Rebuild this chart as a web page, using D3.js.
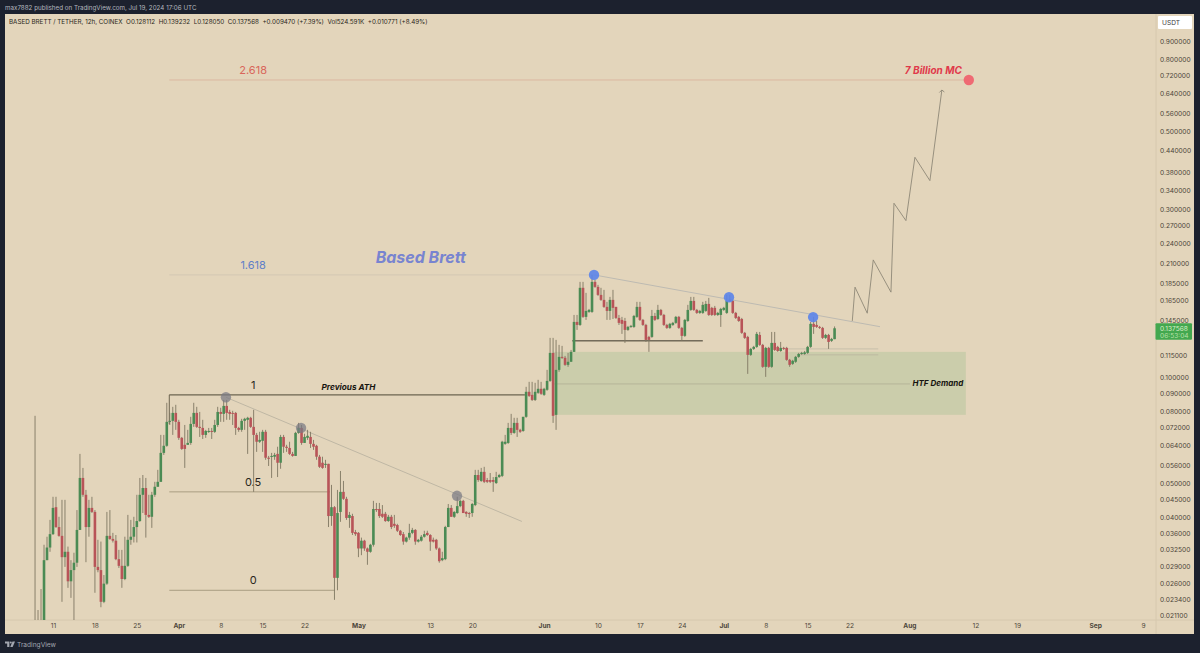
<!DOCTYPE html>
<html>
<head>
<meta charset="utf-8">
<title>Based Brett / Tether</title>
<script src="https://d3js.org/d3.v7.min.js"></script>
<style>
html, body { margin: 0; padding: 0; background: #1c212e; overflow: hidden; }
svg { display: block; }
text { font-family: Inter, "Noto Sans", sans-serif; }
</style>
</head>
<body>
<script>
// 12h candles, first one opens 8 Mar 2024
var firstCandle = "2024-03-08T00:00:00Z";
var opens = [
.0198,.0196,.0199,.0202,.0302,.0328,.0358,.0427,.0375,.0354,
.0308,.0319,.0263,.0283,.0297,.0368,.0517,.0463,.0375,.0425,
.0414,.0289,.0283,.0230,.0259,.0354,.0347,.0343,.0304,.0291,
.0267,.0291,.0345,.0352,.0375,.0390,.0463,.0484,.0406,.0401,
.0463,.0488,.0504,.0609,.0638,.0746,.0751,.0791,.0746,.0672,
.0642,.0642,.0650,.0736,.0791,.0722,.0717,.0685,.0699,.0703,
.0699,.0731,.0796,.0786,.0828,.0796,.0791,.0791,.0717,.0708,
.0751,.0756,.0766,.0722,.0685,.0655,.0659,.0699,.0590,.0594,
.0594,.0605,.0571,.0676,.0634,.0629,.0605,.0597,.0694,.0717,
.0650,.0672,.0676,.0646,.0638,.0594,.0571,.0563,.0567,.0403,
.0427,.0269,.0414,.0472,.0451,.0398,.0403,.0363,.0361,.0326,
.0343,.0326,.0319,.0334,.0422,.0422,.0409,.0409,.0390,.0401,
.0383,.0380,.0366,.0358,.0341,.0350,.0361,.0368,.0341,.0343,
.0352,.0361,.0356,.0345,.0345,.0326,.0302,.0304,.0375,.0425,
.0401,.0411,.0430,.0445,.0414,.0411,.0411,.0433,.0527,.0507,
.0538,.0510,.0510,.0510,.0500,.0520,.0524,.0646,.0650,.0717,
.0694,.0741,.0708,.0703,.0771,.0908,.0890,.0861,.0902,.0926,
.0890,.0920,.0975,.1171,.0781,.1048,.1141,.1134,.1083,.1105,
.1179,.1434,.1406,.1792,.1482,.1531,.1531,.1863,.1803,.1711,
.1656,.1582,.1541,.1656,.1582,.1472,.1453,.1443,.1361,.1388,
.1388,.1482,.1582,.1453,.1406,.1300,.1300,.1491,.1462,.1551,
.1501,.1406,.1379,.1406,.1425,.1482,.1379,.1309,.1443,.1551,
.1645,.1551,.1521,.1521,.1541,.1613,.1572,.1572,.1501,.1501,
.1551,.1521,.1656,.1645,.1521,.1482,.1462,.1335,.1300,.1156,
.1202,.1218,.1317,.1234,.1069,.1210,.1069,.1250,.1218,.1186,
.1210,.1210,.1119,.1090,.1105,.1141,.1163,.1163,.1171,.1218,
.1416,.1406,.1388,.1379,.1292,.1317,.1267,.128112];
var highs = [
.0776,.0218,.0250,.0334,.0352,.0393,.0457,.0457,.0401,.0448,
.0448,.0330,.0302,.0317,.0419,.0605,.0552,.0478,.0448,.0457,
.0419,.0345,.0341,.0274,.0414,.0419,.0361,.0356,.0323,.0323,
.0352,.0406,.0393,.0401,.0463,.0517,.0527,.0517,.0463,.0472,
.0504,.0545,.0685,.0685,.0845,.0791,.0823,.0834,.0756,.0676,
.0731,.0708,.0771,.0845,.0823,.0796,.0756,.0708,.0717,.0717,
.0756,.0823,.0818,.0861,.0861,.0807,.0802,.0796,.0722,.0761,
.0766,.0771,.0771,.0807,.0694,.0699,.0708,.0708,.0597,.0609,
.0609,.0634,.0685,.0685,.0642,.0655,.0613,.0699,.0741,.0731,
.0690,.0708,.0699,.0663,.0642,.0601,.0594,.0582,.0567,.0494,
.0430,.0478,.0541,.0507,.0457,.0414,.0409,.0368,.0363,.0350,
.0345,.0328,.0336,.0445,.0439,.0439,.0433,.0414,.0406,.0406,
.0406,.0383,.0368,.0363,.0352,.0383,.0373,.0370,.0347,.0356,
.0366,.0366,.0358,.0350,.0347,.0328,.0319,.0378,.0436,.0433,
.0416,.0457,.0448,.0448,.0416,.0414,.0439,.0545,.0545,.0552,
.0556,.0517,.0534,.0520,.0538,.0531,.0659,.0685,.0741,.0786,
.0766,.0766,.0713,.0771,.0938,.0969,.0969,.0963,.0982,.0969,
.0932,.1048,.1292,.1292,.1275,.1234,.1226,.1148,.1171,.1194,
.1501,.1501,.1863,.1863,.1734,.1561,.1950,.1887,.1827,.1792,
.1768,.1635,.1689,.1768,.1582,.1501,.1482,.1472,.1397,.1406,
.1501,.1635,.1635,.1462,.1416,.1309,.1551,.1521,.1603,.1561,
.1511,.1416,.1425,.1434,.1491,.1491,.1388,.1462,.1603,.1689,
.1689,.1561,.1551,.1635,.1645,.1678,.1582,.1592,.1531,.1572,
.1582,.1711,.1711,.1656,.1531,.1491,.1472,.1343,.1309,.1210,
.1226,.1343,.1343,.1242,.1218,.1218,.1343,.1343,.1226,.1258,
.1218,.1218,.1126,.1119,.1148,.1171,.1179,.1186,.1226,.1434,
.1482,.1443,.1397,.1388,.1326,.1326,.1292,.139232];
var lows = [
.0185,.0188,.0192,.0192,.0302,.0319,.0356,.0373,.0352,.0230,
.0289,.0252,.0236,.0204,.0289,.0368,.0457,.0298,.0352,.0411,
.0244,.0279,.0222,.0228,.0257,.0345,.0339,.0302,.0287,.0252,
.0265,.0289,.0334,.0339,.0339,.0388,.0411,.0350,.0398,.0373,
.0457,.0488,.0504,.0601,.0634,.0731,.0685,.0708,.0663,.0621,
.0552,.0642,.0642,.0722,.0717,.0676,.0667,.0672,.0694,.0667,
.0694,.0722,.0746,.0746,.0756,.0756,.0731,.0685,.0699,.0699,
.0708,.0605,.0717,.0472,.0613,.0650,.0613,.0582,.0559,.0517,
.0582,.0520,.0549,.0609,.0613,.0601,.0594,.0597,.0690,.0642,
.0650,.0663,.0629,.0621,.0582,.0552,.0549,.0552,.0375,.0378,
.0233,.0248,.0388,.0448,.0393,.0373,.0356,.0354,.0308,.0312,
.0321,.0293,.0317,.0330,.0414,.0398,.0398,.0388,.0388,.0370,
.0373,.0363,.0354,.0334,.0339,.0345,.0358,.0334,.0339,.0341,
.0350,.0354,.0321,.0339,.0323,.0297,.0300,.0302,.0375,.0401,
.0398,.0409,.0427,.0411,.0401,.0398,.0401,.0430,.0504,.0504,
.0500,.0500,.0500,.0472,.0497,.0517,.0520,.0642,.0646,.0685,
.0690,.0676,.0694,.0699,.0766,.0878,.0855,.0855,.0896,.0890,
.0884,.0914,.0969,.0741,.0708,.1035,.1126,.1076,.1069,.1105,
.1179,.1361,.1397,.1472,.1453,.1521,.1521,.1792,.1700,.1645,
.1572,.1453,.1453,.1462,.1462,.1406,.1326,.1250,.1352,.1379,
.1379,.1472,.1443,.1397,.1258,.1179,.1292,.1443,.1453,.1491,
.1397,.1370,.1370,.1397,.1416,.1370,.1267,.1300,.1434,.1541,
.1541,.1511,.1511,.1511,.1531,.1491,.1491,.1491,.1491,.1388,
.1541,.1511,.1635,.1511,.1462,.1434,.1326,.1283,.1021,.1148,
.1194,.1210,.1226,.1062,.1001,.1062,.1062,.1186,.1179,.1179,
.1194,.1112,.1069,.1083,.1097,.1134,.1156,.1156,.1163,.1210,
.1326,.1379,.1370,.1283,.1283,.1202,.1258,.12805];
var closes = [
.0197,.0198,.0201,.0302,.0328,.0358,.0425,.0375,.0354,.0308,
.0319,.0263,.0283,.0297,.0368,.0517,.0463,.0375,.0425,.0414,
.0289,.0283,.0230,.0259,.0354,.0347,.0343,.0304,.0291,.0267,
.0291,.0345,.0352,.0375,.0390,.0463,.0484,.0406,.0401,.0463,
.0488,.0504,.0609,.0638,.0746,.0751,.0791,.0746,.0672,.0625,
.0625,.0650,.0736,.0791,.0722,.0717,.0685,.0703,.0703,.0699,
.0731,.0796,.0786,.0828,.0791,.0786,.0786,.0717,.0708,.0751,
.0761,.0766,.0722,.0685,.0655,.0663,.0699,.0590,.0586,.0597,
.0601,.0571,.0676,.0634,.0629,.0605,.0597,.0694,.0717,.0650,
.0676,.0681,.0646,.0634,.0594,.0556,.0552,.0567,.0403,.0427,
.0269,.0411,.0472,.0451,.0398,.0406,.0361,.0358,.0326,.0343,
.0326,.0319,.0334,.0422,.0419,.0403,.0401,.0390,.0401,.0375,
.0378,.0366,.0356,.0341,.0350,.0361,.0368,.0341,.0345,.0352,
.0358,.0356,.0341,.0341,.0326,.0300,.0306,.0375,.0425,.0401,
.0414,.0430,.0445,.0411,.0409,.0409,.0436,.0527,.0510,.0538,
.0504,.0504,.0504,.0504,.0520,.0527,.0655,.0655,.0717,.0694,
.0741,.0708,.0699,.0771,.0908,.0884,.0861,.0908,.0926,.0896,
.0926,.0975,.1171,.0776,.1048,.1141,.1134,.1083,.1105,.1179,
.1434,.1406,.1792,.1482,.1541,.1551,.1863,.1803,.1711,.1656,
.1582,.1541,.1656,.1572,.1472,.1425,.1416,.1361,.1388,.1397,
.1491,.1582,.1453,.1406,.1275,.1275,.1491,.1453,.1551,.1501,
.1406,.1379,.1416,.1425,.1482,.1379,.1309,.1453,.1551,.1645,
.1551,.1521,.1541,.1603,.1613,.1501,.1501,.1501,.1521,.1561,
.1572,.1645,.1645,.1521,.1472,.1443,.1335,.1292,.1156,.1202,
.1218,.1326,.1234,.1069,.1210,.1069,.1250,.1194,.1186,.1210,
.1202,.1119,.1083,.1112,.1141,.1163,.1171,.1175,.1218,.1416,
.1388,.1388,.1379,.1292,.1317,.1258,.1283,.137568];

var priceTicks = [0.9,0.8,0.72,0.64,0.56,0.5,0.44,0.38,0.34,0.3,0.27,0.24,0.21,0.185,0.165,0.145,
  0.115,0.1,0.09,0.08,0.072,0.064,0.056,0.05,0.045,0.04,0.036,0.0325,0.029,0.026,0.0234,0.0211];
var timeTicks = ["03-11","03-18","03-25","04-01","04-08","04-15","04-22","05-01","05-13","05-20","06-01",
  "06-10","06-17","06-24","07-01","07-08","07-15","07-22","08-01","08-12","08-19","09-01","09-09"];

// fib levels, log scale
var fibLabels = ["0","0.5","1","1.618","2.618"];
var fibPrices = [0.0248,0.0472,0.089,0.195,0.6975];
// projected move drawn on the chart
var projDates = ["07-22T11","07-22T22","07-24T23","07-25T23","07-28T22","07-29T10","07-31T10","08-01T22","08-04T10","08-06T10"];
var projPrices = [.1443,.18,.1518,.2151,.1742,.3116,.2781,.4208,.3612,.6533];
var greyDotDates = ["04-08T21","04-21T10","05-17T11"];
var greyDotPrices = [.0876,.0717,.0460];
var blueDotDates = ["06-09T08","07-01T21","07-15T22"];
var blueDotPrices = [.1950,.1685,.1480];

var width = 1200, height = 653;
var plotLeft = 5, plotRight = 1156, panelRight = 1194, plotTop = 14, plotBottom = 620, panelBottom = 634;
var bg = "#e3d5bb", upColor = "#4b8b54", downColor = "#b85458", wickColor = "#7f7762";

function day(s) { return new Date("2024-" + s + (s.length > 5 ? ":00:00Z" : "T00:00:00Z")); }

var x = d3.scaleUtc().domain([day("03-11"), day("09-09")]).range([53, 1143]);
var y = d3.scaleLog().domain([0.0211, 0.9]).range([615, 41]);

var svg = d3.select("body").append("svg").attr("width", width).attr("height", height);
svg.append("rect").attr("x", plotLeft).attr("y", plotTop).attr("width", panelRight - plotLeft).attr("height", panelBottom - plotTop).attr("fill", bg);

svg.append("defs").append("clipPath").attr("id", "plot").append("rect")
  .attr("x", plotLeft).attr("y", plotTop).attr("width", plotRight - plotLeft).attr("height", plotBottom - plotTop);

// axis separators
svg.append("line").attr("x1", plotRight).attr("x2", plotRight).attr("y1", plotTop).attr("y2", panelBottom).attr("stroke", "#d6c8ae");
svg.append("line").attr("x1", plotLeft).attr("x2", panelRight).attr("y1", plotBottom).attr("y2", plotBottom).attr("stroke", "#d6c8ae");

// header
svg.append("text").attr("x", 5).attr("y", 10.3).attr("font-size", 6.25).attr("fill", "#b4b7bf")
  .text("max7882 published on TradingView.com, Jul 19, 2024 17:06 UTC");
svg.append("text").attr("x", 9).attr("y", 24).attr("font-size", 6.27).attr("fill", "#2a2720")
  .attr("xml:space", "preserve")
  .text("BASED BRETT / TETHER, 12h, COINEX  O0.128112  H0.139232  L0.128050  C0.137568  +0.009470 (+7.39%)  Vol524.591K  +0.010771 (+8.49%)");

// demand zone
var zoneX0 = x(day("06-02T12")), zoneX1 = x(day("08-10T10"));
svg.append("rect").attr("x", zoneX0).attr("width", zoneX1 - zoneX0)
  .attr("y", y(0.1179)).attr("height", y(0.0781) - y(0.1179)).attr("fill", "#cbcdab");
svg.append("line").attr("x1", zoneX0).attr("x2", x(day("08-01T02"))).attr("y1", y(0.0956)).attr("y2", y(0.0956))
  .attr("stroke", "#b5b499");
svg.append("text").attr("x", x(day("08-10T00"))).attr("y", y(0.0956) + 2.5).attr("text-anchor", "end")
  .attr("font-size", 8).attr("font-weight", 700).attr("font-style", "italic").attr("fill", "#16140f").text("HTF Demand");

// fib lines
var fibStart = day("03-30T10");
var fibEnds = [day("04-27T02"), day("04-26T06"), day("05-28T19"), day("06-09T08"), day("08-10T22")];
var fibColors = ["#a99d82", "#a99d82", "#6d6450", "#d3c8b4", "#dbb7a0"];
var fibWidths = [1, 1, 1.2, 1, 1];
var fibText = ["#2a2720", "#2a2720", "#2a2720", "#5f7fc8", "#d9665a"];
fibPrices.forEach(function(p, i) {
  svg.append("line").attr("x1", x(fibStart)).attr("x2", x(fibEnds[i])).attr("y1", y(p)).attr("y2", y(p))
    .attr("stroke", fibColors[i]).attr("stroke-width", fibWidths[i]);
  svg.append("text").attr("x", x(day("04-13T10"))).attr("y", y(p) - 6).attr("text-anchor", "middle")
    .attr("font-size", 11).attr("fill", fibText[i]).text(fibLabels[i]);
});
svg.append("line").attr("x1", x(fibStart)).attr("x2", x(fibStart)).attr("y1", y(0.089)).attr("y2", y(0.0735))
  .attr("stroke", "#6d6450").attr("stroke-width", 1);

// trendlines
var trends = [
  {d: ["04-08T21", "05-28T07"], p: [0.0876, 0.0389], c: "#bfb7a4"},
  {d: ["06-09T08", "07-27T02"], p: [0.1950, 0.1390], c: "#bdbab2"},
  {d: ["07-11T05", "07-26T19"], p: [0.1202, 0.1202], c: "#c8bfac"},
  {d: ["07-13T17", "07-26T19"], p: [0.1156, 0.1156], c: "#bdb9a0"},
  {d: ["06-05T17", "06-27T12"], p: [0.1267, 0.1267], c: "#3a3428"}
];
trends.forEach(function(t) {
  svg.append("line").attr("x1", x(day(t.d[0]))).attr("x2", x(day(t.d[1]))).attr("y1", y(t.p[0])).attr("y2", y(t.p[1]))
    .attr("stroke", t.c);
});

// candles
var candles = opens.map(function(o, i) {
  return {t: d3.utcHour.offset(new Date(firstCandle), i * 12), o: o, h: highs[i], l: lows[i], c: closes[i]};
});
var chart = svg.append("g").attr("clip-path", "url(#plot)");
var candle = chart.selectAll("g").data(candles).enter().append("g");
candle.append("line")
  .attr("x1", function(d) { return x(d.t); }).attr("x2", function(d) { return x(d.t); })
  .attr("y1", function(d) { return y(d.h); }).attr("y2", function(d) { return y(d.l); })
  .attr("stroke", wickColor).attr("stroke-width", 0.9);
candle.append("rect")
  .attr("x", function(d) { return x(d.t) - 1.3; }).attr("width", 2.6)
  .attr("y", function(d) { return y(Math.max(d.o, d.c)); })
  .attr("height", function(d) { return Math.max(1, Math.abs(y(d.o) - y(d.c))); })
  .attr("fill", function(d) { return d.c >= d.o ? upColor : downColor; });

// dots on the swing highs
greyDotDates.forEach(function(d, i) {
  svg.append("circle").attr("cx", x(day(d))).attr("cy", y(greyDotPrices[i])).attr("r", 5.2).attr("fill", "#7a7a84").attr("fill-opacity", 0.72);
});
blueDotDates.forEach(function(d, i) {
  svg.append("circle").attr("cx", x(day(d))).attr("cy", y(blueDotPrices[i])).attr("r", 5.2).attr("fill", "#5b84ea").attr("fill-opacity", 0.9);
});
svg.append("circle").attr("cx", x(day("08-10T22"))).attr("cy", y(0.6975)).attr("r", 5.2).attr("fill", "#f0616d").attr("fill-opacity", 0.92);

// projected path with arrow head
var proj = projDates.map(function(d, i) { return [x(day(d)), y(projPrices[i])]; });
svg.append("path").attr("d", d3.line()(proj)).attr("fill", "none").attr("stroke", "#8e8877").attr("stroke-width", 0.9);
var tip = proj[proj.length - 1];
svg.append("path").attr("d", "M" + (tip[0] - 2.5) + "," + (tip[1] + 2.5) + "L" + tip[0] + "," + tip[1] + "L" + (tip[0] + 2.5) + "," + (tip[1] + 2))
  .attr("fill", "none").attr("stroke", "#8e8877").attr("stroke-width", 0.9);

// notes
svg.append("text").attr("x", x(day("04-29T08"))).attr("y", y(0.089) - 5).attr("text-anchor", "middle")
  .attr("font-size", 8.2).attr("font-weight", 700).attr("font-style", "italic").attr("fill", "#16140f").text("Previous ATH");
svg.append("text").attr("x", x(day("05-11T10"))).attr("y", y(0.195) - 12).attr("text-anchor", "middle")
  .attr("font-size", 16).attr("font-weight", 700).attr("font-style", "italic").attr("fill", "#7884d0").text("Based Brett");
svg.append("text").attr("x", x(day("08-05T00"))).attr("y", y(0.6975) - 6).attr("text-anchor", "middle")
  .attr("font-size", 10).attr("font-weight", 700).attr("font-style", "italic").attr("fill", "#e0394a").text("7 Billion MC");

// price axis
var yAxis = d3.axisRight(y).tickValues(priceTicks).tickSize(0).tickPadding(0).tickFormat(d3.format(".6f"));
var yG = svg.append("g").attr("transform", "translate(1160,0)").call(yAxis);
yG.select(".domain").remove();
yG.selectAll("text").attr("font-size", 6.6).attr("fill", "#4c463a").style("font-family", "Inter, sans-serif");

svg.append("rect").attr("x", 1158).attr("y", 16).attr("width", 34).attr("height", 13).attr("rx", 1).attr("fill", "#fff");
svg.append("text").attr("x", 1162).attr("y", 25).attr("font-size", 6.6).attr("fill", "#3a3a3a").text("USDT");

// last price tag
var lastClose = closes[closes.length - 1];
svg.append("rect").attr("x", 1155.5).attr("y", y(lastClose) - 5).attr("width", 36.5).attr("height", 16.5).attr("rx", 1).attr("fill", "#43a84f");
svg.append("text").attr("x", 1160).attr("y", y(lastClose) + 2.3).attr("font-size", 6.6).attr("fill", "#d9efc8").text(d3.format(".6f")(lastClose));
svg.append("text").attr("x", 1160).attr("y", y(lastClose) + 9.3).attr("font-size", 6.6).attr("fill", "#b7e0a8").text("06:53:04");

// time axis
var timeFmt = function(d) {
  return d.getUTCDate() === 1 ? d3.utcFormat("%b")(d) : String(d.getUTCDate());
};
var xAxis = d3.axisBottom(x).tickValues(timeTicks.map(day)).tickSize(0).tickPadding(0).tickFormat(timeFmt);
var xG = svg.append("g").attr("transform", "translate(0,623.5)").call(xAxis);
xG.select(".domain").remove();
xG.selectAll("text").attr("font-size", 6.6).attr("fill", "#4c463a").style("font-family", "Inter, sans-serif")
  .attr("font-weight", function(d) { return d.getUTCDate() === 1 ? 700 : 400; });

// footer logo
var logo = svg.append("g").attr("fill", "#a3a7b0").attr("transform", "translate(5,641.5)");
logo.append("path").attr("d", "M0,0H4.4V5.5H2.2V2H0Z");
logo.append("circle").attr("cx", 5.8).attr("cy", 1).attr("r", 1);
logo.append("path").attr("d", "M7.5,0H10L7.6,5.5H5.2Z");
svg.append("text").attr("x", 17).attr("y", 646.8).attr("font-size", 6.6).attr("fill", "#a3a7b0").text("TradingView");
</script>
</body>
</html>
